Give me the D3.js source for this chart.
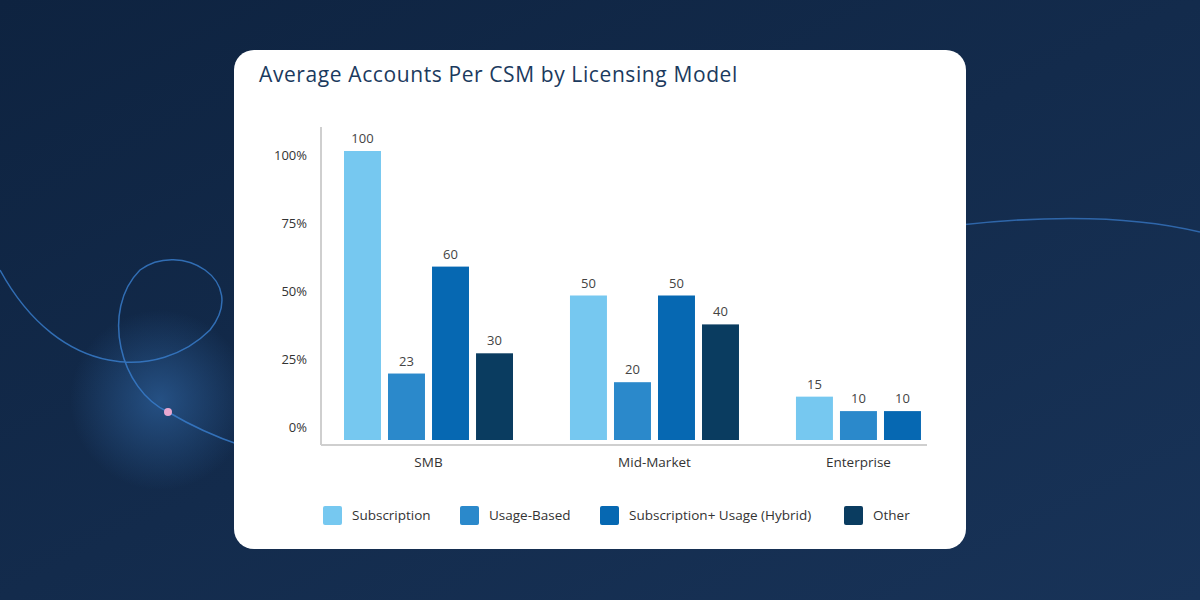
<!DOCTYPE html>
<html><head><meta charset="utf-8">
<script src="https://cdn.jsdelivr.net/npm/d3@7"></script>
<style>body{margin:0;background:#0f2543}svg{display:block}</style>
</head><body><svg id="c" width="1200" height="600"></svg>
<script>
const groups = ["SMB","Mid-Market","Enterprise"];
const series = ["Subscription","Usage-Based","Subscription+ Usage (Hybrid)","Other"];
const colors = ["#76c8f0","#2b89cb","#0668b2","#0a3c60"];
const subscription = [100,50,15];
const usageBased = [23,20,10];
const hybrid = [60,50,10];
const other = [30,40,null];
const tickValues = [0,25,50,75,100];
const tickLabels = ["0%","25%","50%","75%","100%"];

const svg = d3.select("#c");
const defs = svg.append("defs");
const lg = defs.append("linearGradient").attr("id","bg").attr("x1",0).attr("x2",1).attr("y1",0).attr("y2",1);
lg.append("stop").attr("offset","0%").attr("stop-color","#0e2340");
lg.append("stop").attr("offset","100%").attr("stop-color","#183358");
const rg = defs.append("radialGradient").attr("id","glow");
rg.append("stop").attr("offset","0%").attr("stop-color","#2a5a92").attr("stop-opacity",0.8);
rg.append("stop").attr("offset","100%").attr("stop-color","#2a5a92").attr("stop-opacity",0);
svg.append("rect").attr("width",1200).attr("height",600).attr("fill","url(#bg)");
svg.append("circle").attr("cx",160).attr("cy",400).attr("r",90).attr("fill","url(#glow)");
svg.append("path").attr("d","M0,270 C60,380 160,380 210,330 C250,280 180,240 140,270 C100,310 120,390 168,412 C190,425 210,435 240,445")
  .attr("fill","none").attr("stroke","#3a7fd0").attr("stroke-width",1.5).attr("opacity",0.8);
svg.append("path").attr("d","M960,225 C1050,215 1130,215 1200,232").attr("fill","none").attr("stroke","#3a7fd0").attr("stroke-width",1.5).attr("opacity",0.7);
svg.append("circle").attr("cx",168).attr("cy",412).attr("r",4).attr("fill","#e9a8d0");

svg.append("rect").attr("x",234).attr("y",50).attr("width",732).attr("height",499).attr("rx",20).attr("fill","#fff");
svg.append("text").attr("x",259).attr("y",82).attr("font-family","Open Sans, sans-serif").attr("font-size",21)
  .attr("font-weight",500).attr("letter-spacing",0.6).attr("fill","#1b3a5e").text("Average Accounts Per CSM by Licensing Model");

const font = "Open Sans, sans-serif";
const y = d3.scaleLinear().domain([0,100]).range([440,151]);
const yTick = d3.scaleLinear().domain([0,100]).range([427,155]);
const x0 = d3.scaleBand().domain(groups).range([321.4,987.6]).paddingInner(0.252).paddingOuter(0.1);
const x1 = d3.scaleBand().domain(d3.range(4)).range([0,169]).paddingInner(0.16).paddingOuter(0);

const data = groups.map((g,i)=>({g, vals:[subscription[i],usageBased[i],hybrid[i],other[i]].map((v,k)=>({v,k})).filter(d=>d.v!=null)}));

svg.append("line").attr("x1",321).attr("x2",321).attr("y1",127).attr("y2",445).attr("stroke","#cfcfcf").attr("stroke-width",2);
svg.append("line").attr("x1",321).attr("x2",927).attr("y1",445).attr("y2",445).attr("stroke","#cfcfcf").attr("stroke-width",2);
svg.selectAll(".yt").data(tickValues).join("text").attr("x",307).attr("y",d=>yTick(d)+5)
  .attr("text-anchor","end").attr("font-family",font).attr("font-size",13).attr("fill","#333")
  .text((d,i)=>tickLabels[i]);

const gg = svg.selectAll(".grp").data(data).join("g").attr("transform",d=>`translate(${x0(d.g)},0)`);
gg.selectAll("rect").data(d=>d.vals).join("rect")
  .attr("x",(d,i)=>x1(i)).attr("width",x1.bandwidth()).attr("y",d=>y(d.v)).attr("height",d=>440-y(d.v))
  .attr("fill",d=>colors[d.k]);
gg.selectAll("text.v").data(d=>d.vals).join("text").attr("class","v")
  .attr("x",(d,i)=>x1(i)+x1.bandwidth()/2).attr("y",d=>y(d.v)-8).attr("text-anchor","middle")
  .attr("font-family",font).attr("font-size",13).attr("fill","#444").text(d=>d.v);
gg.append("text").attr("x",d=>(x1(d.vals.length-1)+x1.bandwidth())/2).attr("y",467)
  .attr("text-anchor","middle").attr("font-family",font).attr("font-size",13.5).attr("fill","#333").text(d=>d.g);

const lx = [323,460,600,844];
const leg = svg.selectAll(".lg").data(series).join("g").attr("transform",(d,i)=>`translate(${lx[i]},506)`);
leg.append("rect").attr("width",19).attr("height",19).attr("rx",2).attr("fill",(d,i)=>colors[i]);
leg.append("text").attr("x",29).attr("y",14).attr("font-family",font).attr("font-size",13.5).attr("fill","#333").text(d=>d);
</script></body></html>
